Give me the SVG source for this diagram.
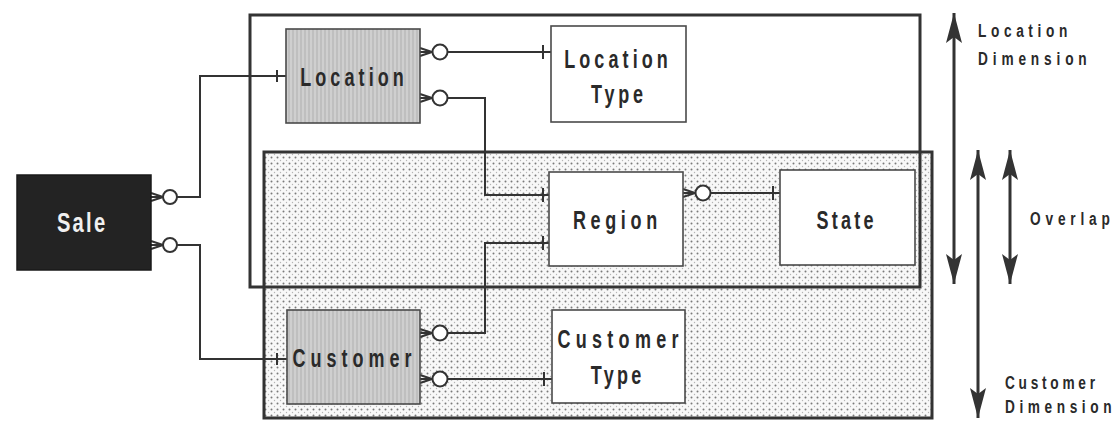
<svg xmlns="http://www.w3.org/2000/svg" width="1115" height="422" viewBox="0 0 1115 422">
<style>
.t{font-family:"Liberation Sans",Arial,sans-serif;font-weight:bold;fill:#2a2a2a}
.nl{font-size:25px;text-anchor:middle}
.lb{font-size:19px}
.box{stroke:#4a4a4a;stroke-width:1.6}
.white{fill:#fff}
.grey{fill:url(#hatch)}
.dim{fill:none;stroke:#333;stroke-width:3}
.dimfill{fill:url(#dots);stroke:#333;stroke-width:3}
.c{fill:none;stroke:#333;stroke-width:2}
.circ{fill:#fff;stroke:#333;stroke-width:2}
.arr{stroke:#333;stroke-width:3;fill:none;marker-start:url(#ah);marker-end:url(#ah)}
</style>
<defs>
<pattern id="hatch" width="4" height="4" patternUnits="userSpaceOnUse">
<rect width="4" height="4" fill="#cfcfcf"/>
<line x1="1" y1="0" x2="1" y2="4" stroke="#b0b0b0" stroke-width="1"/>
</pattern>
<pattern id="dots" width="6" height="6" patternUnits="userSpaceOnUse">
<rect width="6" height="6" fill="#f8f8f8"/>
<circle cx="1.5" cy="1.5" r="1" fill="#7a7a7a"/>
<circle cx="4.5" cy="4.5" r="0.7" fill="#b5b5b5"/>
</pattern>
<marker id="ah" viewBox="-1 -10 32 20" refX="30" refY="0" markerWidth="32" markerHeight="20" markerUnits="userSpaceOnUse" orient="auto-start-reverse">
<path d="M0,-8 L30,0 L0,8 L6,0 Z" fill="#333"/>
</marker>
</defs>
<rect width="1115" height="422" fill="#fff"/>

<g id="customer-dimension">
<rect x="264" y="152" width="668" height="266" class="dimfill"/>
</g>
<g id="location-dimension">
<rect x="250" y="15" width="670" height="272" class="dim"/>
</g>

<g id="connectors">
<path class="c" d="M151,193 L163,197 M151,197 L163,197 M151,201 L163,197"/>
<circle class="circ" cx="170" cy="197" r="7"/>
<path class="c" d="M177,197 H200 V76 H286 M277,70 V82"/>
<path class="c" d="M151,241 L163,245 M151,245 L163,245 M151,249 L163,245"/>
<circle class="circ" cx="170" cy="245" r="7"/>
<path class="c" d="M177,245 H200 V359 H287 M277,353 V365"/>
<path class="c" d="M420,48 L432,52 M420,52 L432,52 M420,56 L432,52"/>
<circle class="circ" cx="440" cy="52" r="7.5"/>
<path class="c" d="M447.5,52 H551 M543,45 V59"/>
<path class="c" d="M420,94 L432,98 M420,98 L432,98 M420,102 L432,98"/>
<circle class="circ" cx="440" cy="98" r="7.5"/>
<path class="c" d="M447.5,98 H485 V195 H549 M543,188 V202"/>
<path class="c" d="M420,329 L432,333 M420,333 L432,333 M420,337 L432,333"/>
<circle class="circ" cx="440" cy="333" r="7.5"/>
<path class="c" d="M447.5,333 H485 V243 H549 M543,236 V250"/>
<path class="c" d="M420,375 L432,379 M420,379 L432,379 M420,383 L432,379"/>
<circle class="circ" cx="440" cy="379" r="7.5"/>
<path class="c" d="M447.5,379 H552 M544,372 V386"/>
<path class="c" d="M683,189 L695,193 M683,193 L695,193 M683,197 L695,193"/>
<circle class="circ" cx="703" cy="193" r="7.5"/>
<path class="c" d="M710.5,193 H780 M773,186 V200"/>
</g>

<g id="sale">
<rect x="17" y="175" width="134" height="95" fill="#232323" stroke="#1a1a1a" stroke-width="1.5"/>
<text class="t nl" transform="translate(81,232) scale(0.72,1)" style="fill:#f0f0f0;font-size:28px" textLength="67" lengthAdjust="spacing">Sale</text>
</g>
<g id="location">
<rect x="286" y="29" width="134" height="94" class="box grey"/>
<text class="t nl" transform="translate(352,86) scale(0.72,1)" textLength="144" lengthAdjust="spacing">Location</text>
</g>
<g id="location-type">
<rect x="551" y="26" width="135" height="96" class="box white"/>
<text class="t nl" transform="translate(616,68) scale(0.72,1)" textLength="144" lengthAdjust="spacing">Location</text>
<text class="t nl" transform="translate(617,103) scale(0.72,1)" textLength="72" lengthAdjust="spacing">Type</text>
</g>
<g id="region">
<rect x="549" y="172" width="134" height="94" class="box white"/>
<text class="t nl" transform="translate(615,229) scale(0.72,1)" textLength="117" lengthAdjust="spacing">Region</text>
</g>
<g id="state">
<rect x="780" y="170" width="135" height="95" class="box white"/>
<text class="t nl" transform="translate(845,229) scale(0.72,1)" textLength="79" lengthAdjust="spacing">State</text>
</g>
<g id="customer">
<rect x="287" y="310" width="133" height="94" class="box grey"/>
<text class="t nl" transform="translate(352,367) scale(0.72,1)" textLength="165" lengthAdjust="spacing">Customer</text>
</g>
<g id="customer-type">
<rect x="552" y="310" width="133" height="93" class="box white"/>
<text class="t nl" transform="translate(618,348) scale(0.72,1)" textLength="168" lengthAdjust="spacing">Customer</text>
<text class="t nl" transform="translate(616,384) scale(0.72,1)" textLength="70" lengthAdjust="spacing">Type</text>
</g>

<g id="dimension-arrows">
<line class="arr" x1="954" y1="13" x2="954" y2="284"/>
<line class="arr" x1="978" y1="150" x2="978" y2="418"/>
<line class="arr" x1="1010" y1="150" x2="1010" y2="284"/>
<text class="t lb" transform="translate(978,37) scale(0.72,1)" textLength="124" lengthAdjust="spacing">Location</text>
<text class="t lb" transform="translate(978,65) scale(0.72,1)" textLength="151" lengthAdjust="spacing">Dimension</text>
<text class="t lb" transform="translate(1030,225) scale(0.72,1)" textLength="111" lengthAdjust="spacing">Overlap</text>
<text class="t lb" transform="translate(1005,389) scale(0.72,1)" textLength="125" lengthAdjust="spacing">Customer</text>
<text class="t lb" transform="translate(1005,413) scale(0.72,1)" textLength="148" lengthAdjust="spacing">Dimension</text>
</g>
</svg>
